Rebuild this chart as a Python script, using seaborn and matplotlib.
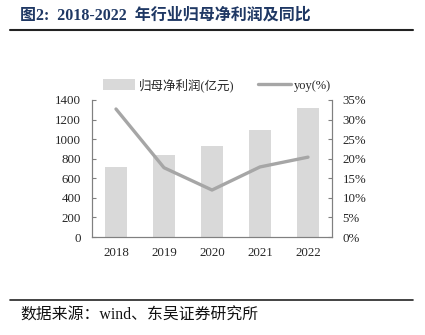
import numpy as np
import pandas as pd
import matplotlib
matplotlib.use("Agg")
import matplotlib.pyplot as plt
from matplotlib.patches import Patch
from matplotlib.lines import Line2D
import seaborn as sns

years = ["2018", "2019", "2020", "2021", "2022"]
profit = [711, 833, 929, 1093, 1315]
yoy = [32.7, 17.7, 12.0, 17.9, 20.4]
left_ticks = [0, 200, 400, 600, 800, 1000, 1200, 1400]
right_ticks = [0, 5, 10, 15, 20, 25, 30, 35]

sns.set_style("white")
plt.rcParams['font.family'] = ['Liberation Serif', 'Noto Sans CJK SC', 'DejaVu Sans']

df = pd.DataFrame({"year": years, "profit": profit, "yoy": yoy})

fig = plt.figure(figsize=(4.25, 3.35), dpi=100)
ax = fig.add_axes([92/425, 1-237/335, (332-92)/425, (237-100)/335])

bar_color = "#D9D9D9"
line_color = "#A6A6A6"
spine_color = "#808080"

sns.barplot(data=df, x="year", y="profit", ax=ax, color=bar_color, width=0.45,
            saturation=1, edgecolor="none")
ax.set_ylim(0, 1400)
ax.set_yticks(left_ticks)
ax.set_yticklabels([str(t) for t in left_ticks], fontsize=9.3)
ax.set_xlabel("")
ax.set_ylabel("")
ax.set_xlim(-0.5, 4.5)
ax.set_xticks(np.arange(len(years) + 1) - 0.5, minor=False)
ax.set_xticklabels([""] * (len(years) + 1))
ax.set_xticks(np.arange(len(years)), minor=True)
ax.set_xticklabels(years, minor=True, fontsize=9.3)
ax.tick_params(axis="x", which="major", direction="in", length=3, color=spine_color)
ax.tick_params(axis="x", which="minor", length=0, pad=7)
ax.tick_params(axis="y", direction="in", length=3, color=spine_color, pad=8)

ax2 = ax.twinx()
sns.pointplot(data=df, x="year", y="yoy", ax=ax2, color=line_color, markers="",
              linewidth=2.4)
ax2.set_ylim(0, 35)
ax2.set_yticks(right_ticks)
ax2.set_yticklabels([f"{t}%" for t in right_ticks], fontsize=9.3)
ax2.set_ylabel("")
ax2.set_xlabel("")
ax2.set_xlim(-0.5, 4.5)
ax2.tick_params(axis="y", direction="in", length=3, color=spine_color, pad=7.5)

for a in (ax, ax2):
    a.spines["top"].set_visible(False)
    for s in ("left", "right", "bottom"):
        a.spines[s].set_color(spine_color)
        a.spines[s].set_linewidth(0.8)

handles = [Patch(facecolor=bar_color, edgecolor="none"),
           Line2D([0], [0], color=line_color, lw=2.4)]
fig.legend(handles, ["归母净利润(亿元)", "yoy(%)"], loc="center",
           bbox_to_anchor=((98+336)/2/425, 1-85/335), ncol=2, frameon=False,
           fontsize=9, handlelength=2.6, handleheight=0.9, columnspacing=1.9,
           handletextpad=0.3)

# title
fig.text(20/425, 1-16/335, "图2:  2018-2022  年行业归母净利润及同比", fontsize=11.5,
         fontweight="bold", color="#1F3864", va="center", ha="left")
fig.add_artist(Line2D([10/425, 413/425], [1-30/335, 1-30/335], color="#222222", lw=1.5))

# footer
fig.add_artist(Line2D([10/425, 413/425], [1-300/335, 1-300/335], color="#222222", lw=1.2))
fig.text(20/425, 1-316/335, "数据来源：wind、东吴证券研究所", fontsize=11.4,
         color="#111111", va="center", ha="left")

fig.savefig("out.png", dpi=100)
